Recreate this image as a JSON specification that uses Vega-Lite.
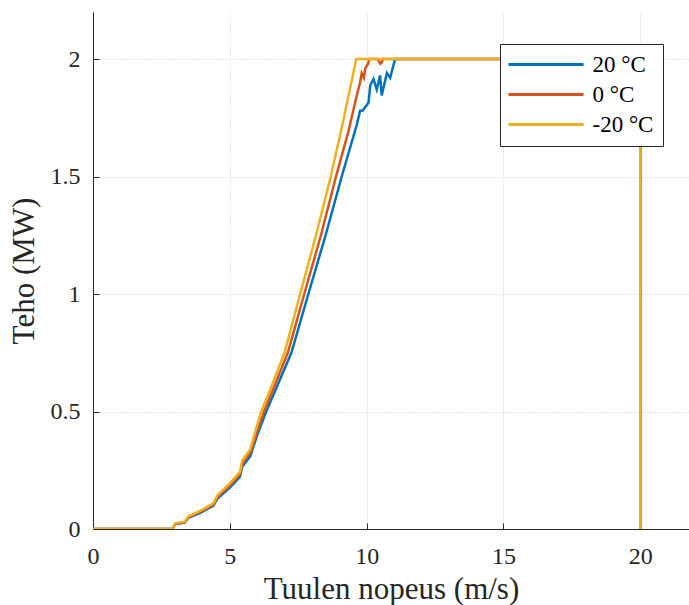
{
  "$schema": "https://vega.github.io/schema/vega-lite/v6.json",
  "width": 596,
  "height": 517,
  "autosize": {"type": "none"},
  "padding": {"left": 93, "top": 12, "right": 0, "bottom": 76},
  "background": "white",
  "config": {
    "view": {"stroke": null},
    "font": "Liberation Serif",
    "axis": {
      "domainColor": "#262626",
      "domainWidth": 1,
      "tickColor": "#262626",
      "tickSize": -6,
      "labelFont": "Liberation Serif",
      "labelFontSize": 24,
      "labelColor": "#262626",
      "labelFlush": false,
      "titleFont": "Liberation Serif",
      "titleFontSize": 31,
      "titleFontWeight": "normal",
      "titleColor": "#262626",
      "gridColor": "#d0d0d0",
      "gridDash": [1, 2],
      "gridWidth": 1
    },
    "legend": {
      "orient": "none",
      "legendX": 407,
      "legendY": 32,
      "strokeColor": "#262626",
      "fillColor": "white",
      "padding": 9,
      "symbolType": "M-4,0H4",
      "symbolSize": 352,
      "symbolStrokeWidth": 3,
      "symbolOffset": 25.5,
      "labelFont": "Liberation Serif",
      "labelFontSize": 23,
      "labelColor": "#000000",
      "labelAlign": "left",
      "labelOffset": 35,
      "rowPadding": 6,
      "cornerRadius": 0
    }
  },
  "data": {
    "values": [
      {"T": "20 °C", "v": 0, "p": 0},
      {"T": "20 °C", "v": 2.9, "p": 0},
      {"T": "20 °C", "v": 3.0, "p": 0.02},
      {"T": "20 °C", "v": 3.35, "p": 0.027},
      {"T": "20 °C", "v": 3.5, "p": 0.049},
      {"T": "20 °C", "v": 3.9, "p": 0.068},
      {"T": "20 °C", "v": 4.4, "p": 0.099},
      {"T": "20 °C", "v": 4.55, "p": 0.13},
      {"T": "20 °C", "v": 5.0, "p": 0.176},
      {"T": "20 °C", "v": 5.37, "p": 0.222},
      {"T": "20 °C", "v": 5.45, "p": 0.265},
      {"T": "20 °C", "v": 5.75, "p": 0.31},
      {"T": "20 °C", "v": 6.0, "p": 0.4},
      {"T": "20 °C", "v": 6.33, "p": 0.5},
      {"T": "20 °C", "v": 6.7, "p": 0.6},
      {"T": "20 °C", "v": 7.25, "p": 0.75},
      {"T": "20 °C", "v": 7.87, "p": 1.0},
      {"T": "20 °C", "v": 8.5, "p": 1.25},
      {"T": "20 °C", "v": 9.09, "p": 1.5},
      {"T": "20 °C", "v": 9.64, "p": 1.72},
      {"T": "20 °C", "v": 9.76, "p": 1.78},
      {"T": "20 °C", "v": 9.85, "p": 1.78},
      {"T": "20 °C", "v": 10.07, "p": 1.815},
      {"T": "20 °C", "v": 10.13, "p": 1.887},
      {"T": "20 °C", "v": 10.25, "p": 1.915},
      {"T": "20 °C", "v": 10.37, "p": 1.87},
      {"T": "20 °C", "v": 10.49, "p": 1.93},
      {"T": "20 °C", "v": 10.55, "p": 1.845},
      {"T": "20 °C", "v": 10.74, "p": 1.94},
      {"T": "20 °C", "v": 10.86, "p": 1.92},
      {"T": "20 °C", "v": 11.04, "p": 2.0},
      {"T": "20 °C", "v": 20, "p": 2.0},
      {"T": "20 °C", "v": 20, "p": 0},
      {"T": "0 °C", "v": 0, "p": 0},
      {"T": "0 °C", "v": 2.9, "p": 0},
      {"T": "0 °C", "v": 3.0, "p": 0.022},
      {"T": "0 °C", "v": 3.35, "p": 0.029},
      {"T": "0 °C", "v": 3.5, "p": 0.052},
      {"T": "0 °C", "v": 3.9, "p": 0.072},
      {"T": "0 °C", "v": 4.4, "p": 0.104},
      {"T": "0 °C", "v": 4.55, "p": 0.137},
      {"T": "0 °C", "v": 5.0, "p": 0.185},
      {"T": "0 °C", "v": 5.37, "p": 0.232},
      {"T": "0 °C", "v": 5.45, "p": 0.277},
      {"T": "0 °C", "v": 5.75, "p": 0.325},
      {"T": "0 °C", "v": 6.0, "p": 0.415},
      {"T": "0 °C", "v": 6.25, "p": 0.5},
      {"T": "0 °C", "v": 6.6, "p": 0.6},
      {"T": "0 °C", "v": 7.12, "p": 0.75},
      {"T": "0 °C", "v": 7.72, "p": 1.0},
      {"T": "0 °C", "v": 8.33, "p": 1.25},
      {"T": "0 °C", "v": 8.88, "p": 1.5},
      {"T": "0 °C", "v": 9.33, "p": 1.69},
      {"T": "0 °C", "v": 9.45, "p": 1.75},
      {"T": "0 °C", "v": 9.65, "p": 1.85},
      {"T": "0 °C", "v": 9.76, "p": 1.9},
      {"T": "0 °C", "v": 9.82, "p": 1.94},
      {"T": "0 °C", "v": 9.9, "p": 1.92},
      {"T": "0 °C", "v": 9.95, "p": 1.96},
      {"T": "0 °C", "v": 10.05, "p": 1.98},
      {"T": "0 °C", "v": 10.1, "p": 2.0},
      {"T": "0 °C", "v": 10.4, "p": 2.0},
      {"T": "0 °C", "v": 10.5, "p": 1.98},
      {"T": "0 °C", "v": 10.55, "p": 1.985},
      {"T": "0 °C", "v": 10.6, "p": 2.0},
      {"T": "0 °C", "v": 20, "p": 2.0},
      {"T": "0 °C", "v": 20, "p": 0},
      {"T": "-20 °C", "v": 0, "p": 0},
      {"T": "-20 °C", "v": 2.9, "p": 0},
      {"T": "-20 °C", "v": 3.0, "p": 0.024},
      {"T": "-20 °C", "v": 3.35, "p": 0.031},
      {"T": "-20 °C", "v": 3.5, "p": 0.055},
      {"T": "-20 °C", "v": 3.9, "p": 0.076},
      {"T": "-20 °C", "v": 4.4, "p": 0.109},
      {"T": "-20 °C", "v": 4.55, "p": 0.144},
      {"T": "-20 °C", "v": 5.0, "p": 0.194},
      {"T": "-20 °C", "v": 5.37, "p": 0.243},
      {"T": "-20 °C", "v": 5.45, "p": 0.29},
      {"T": "-20 °C", "v": 5.75, "p": 0.34},
      {"T": "-20 °C", "v": 5.97, "p": 0.43},
      {"T": "-20 °C", "v": 6.15, "p": 0.5},
      {"T": "-20 °C", "v": 6.5, "p": 0.6},
      {"T": "-20 °C", "v": 7.0, "p": 0.75},
      {"T": "-20 °C", "v": 7.57, "p": 1.0},
      {"T": "-20 °C", "v": 8.15, "p": 1.25},
      {"T": "-20 °C", "v": 8.69, "p": 1.5},
      {"T": "-20 °C", "v": 9.17, "p": 1.75},
      {"T": "-20 °C", "v": 9.62, "p": 2.0},
      {"T": "-20 °C", "v": 20, "p": 2.0},
      {"T": "-20 °C", "v": 20, "p": 0}
    ]
  },
  "mark": {"type": "line", "strokeWidth": 2.5, "clip": true},
  "encoding": {
    "x": {
      "field": "v",
      "type": "quantitative",
      "title": "Tuulen nopeus (m/s)",
      "scale": {"domain": [0, 21.78], "nice": false, "zero": false},
      "axis": {"values": [0, 5, 10, 15, 20], "format": "~g", "labelPadding": 21, "titlePadding": 6, "grid": true}
    },
    "y": {
      "field": "p",
      "type": "quantitative",
      "title": "Teho (MW)",
      "scale": {"domain": [0, 2.2], "nice": false},
      "axis": {"values": [0, 0.5, 1, 1.5, 2], "format": "~g", "labelPadding": 19, "titlePadding": 10, "grid": true}
    },
    "color": {
      "field": "T",
      "type": "nominal",
      "title": null,
      "scale": {"domain": ["20 °C", "0 °C", "-20 °C"], "range": ["#0072BD", "#D95319", "#EDB120"]}
    },
    "order": {"value": null}
  }
}
